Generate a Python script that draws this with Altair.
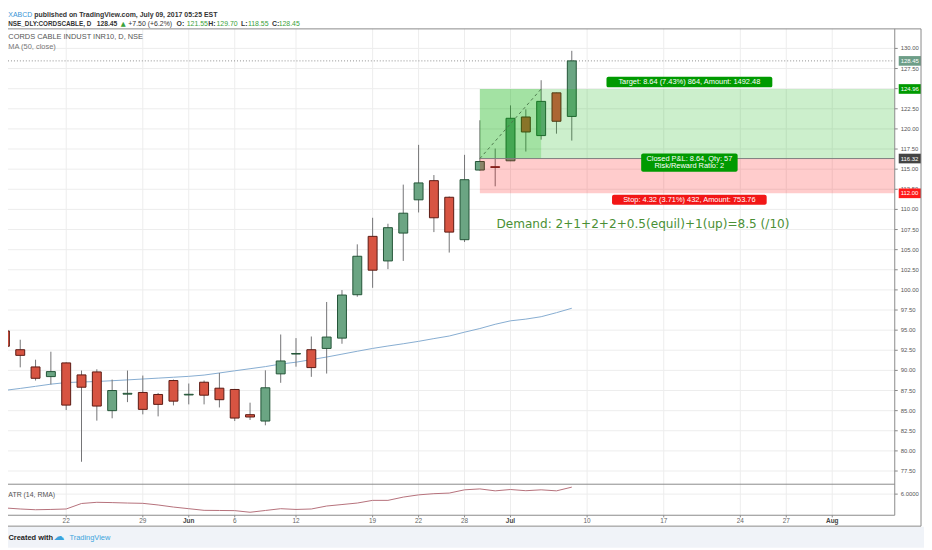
import altair as alt
import pandas as pd

# ---------------- data ----------------
days = ["May 16", "May 17", "May 18", "May 19", "May 22", "May 23", "May 24", "May 25", "May 26",
        "May 29", "May 30", "May 31", "Jun 1", "Jun 2", "Jun 5", "Jun 6", "Jun 7", "Jun 8", "Jun 9",
        "Jun 12", "Jun 13", "Jun 14", "Jun 15", "Jun 16", "Jun 19", "Jun 20", "Jun 21", "Jun 22",
        "Jun 23", "Jun 27", "Jun 28", "Jun 29", "Jun 30", "Jul 3", "Jul 4", "Jul 5", "Jul 6", "Jul 7"]
opens = [94.9, 92.57, 90.43, 89.23, 90.93, 89.44, 89.81, 85.0, 87.05,
         87.26, 87.01, 88.74, 86.95, 88.53, 87.79, 87.63, 84.5, 83.71, 89.57,
         92.03, 92.57, 92.73, 94.01, 99.4, 106.65, 103.6, 107.06, 111.19,
         113.57, 111.51, 106.24, 114.89, 115.3, 116.04, 121.48, 119.17, 124.48, 121.55]
highs = [95.4, 93.81, 91.33, 92.32, 91.0, 89.98, 90.14, 88.86, 89.98,
         89.36, 87.2, 88.86, 88.37, 88.74, 89.69, 87.7, 85.99, 90.01, 94.46,
         94.01, 94.21, 98.5, 99.98, 105.66, 108.96, 108.22, 113.08, 118.02,
         114.27, 111.6, 116.78, 121.07, 117.56, 122.92, 122.43, 126.05, 124.5, 129.70]
lows = [92.7, 90.38, 88.74, 88.25, 85.07, 78.65, 83.76, 84.05, 86.06,
        84.54, 84.29, 85.65, 85.78, 85.78, 85.40, 83.71, 83.84, 83.18, 88.46,
        90.46, 89.2, 89.61, 93.31, 99.15, 100.26, 102.58, 103.6, 109.62,
        107.18, 104.64, 105.95, 114.8, 112.87, 116.0, 117.19, 118.67, 119.41, 118.55]
closes = [93.0, 91.87, 89.02, 89.85, 85.69, 87.91, 85.57, 87.5, 87.15,
          85.16, 85.78, 86.18, 87.03, 86.92, 86.36, 84.08, 84.21, 87.84, 91.17,
          92.1, 90.35, 94.14, 99.36, 104.18, 102.45, 107.73, 109.53, 113.29,
          108.96, 107.18, 113.69, 115.95, 115.22, 121.32, 119.62, 123.42, 120.95, 128.45]
ma50 = [87.52, 87.76, 88.02, 88.29, 88.49, 88.56, 88.62, 88.72, 88.82,
        88.93, 89.04, 89.15, 89.26, 89.42, 89.68, 89.95, 90.21, 90.47, 90.79,
        91.02, 91.34, 91.66, 92.02, 92.38, 92.73, 93.03, 93.31, 93.61,
        93.95, 94.27, 94.75, 95.20, 95.73, 96.16, 96.37, 96.67, 97.17, 97.72]
atr14 = [5.07, 5.0, 4.95, 4.97, 5.0, 5.37, 5.45, 5.43, 5.40,
         5.38, 5.27, 5.13, 5.02, 4.91, 4.9, 4.89, 4.78, 4.9, 5.02,
         4.97, 5.0, 5.2, 5.3, 5.4, 5.58, 5.58, 5.8, 5.95,
         6.03, 6.07, 6.29, 6.35, 6.22, 6.31, 6.23, 6.29, 6.22, 6.47]

tick_idx = [4, 9, 12, 15, 19, 24, 27, 30, 33, 38, 43, 48, 51, 54]
tick_lbl = ["22", "29", "Jun", "6", "12", "19", "22", "28", "Jul", "10", "17", "24", "27", "Aug"]
tick_month = [False, False, True, False, False, False, False, False, True, False, False, False, False, True]
price_ticks = [77.5, 80.0, 82.5, 85.0, 87.5, 90.0, 92.5, 95.0, 97.5, 100.0, 102.5, 105.0,
               107.5, 110.0, 112.5, 115.0, 117.5, 120.0, 122.5, 125.0, 127.5, 130.0]
atr_ticks = [6.0]

entry_price = 116.32
target_price = 124.96
stop_price = 112.00
entry_idx = 31
hit_idx = 35

tag_prices = [128.45, 124.96, 116.32, 112.00]
tag_texts = ["128.45", "124.96", "116.32", "112.00"]
tag_colors = ["#6e9e88", "#009a00", "#444444", "#ff1a1a"]

df = pd.DataFrame({"i": list(range(len(days))), "day": days, "open": opens, "high": highs,
                   "low": lows, "close": closes, "ma": ma50, "atr": atr14})
df["dir"] = ["up" if c >= o else "down" for o, c in zip(opens, closes)]

# ---------------- scales ----------------
FONT = "Liberation Sans"
X_SCALE = alt.Scale(domain=[0.2019, 59.988], padding=0, nice=False, zero=False)
P_SCALE = alt.Scale(domain=[75.862, 132.426], range=[478, 18.7], nice=False, zero=False)
A_SCALE = alt.Scale(domain=[4.58, 6.667], range=[509.3, 478], nice=False, zero=False)
AX = 894.5   # price-axis line (view px)
LBLX = 900.5  # price-axis labels (view px)


def X(field):
    return alt.X(field, type="quantitative", scale=X_SCALE, axis=None)


def PY(field):
    return alt.Y(field, type="quantitative", scale=P_SCALE, axis=None)


def AY(field):
    return alt.Y(field, type="quantitative", scale=A_SCALE, axis=None)


pt = pd.DataFrame({"p": price_ticks, "s": ["%.2f" % v for v in price_ticks]})
xt = pd.DataFrame({"t": tick_idx, "s": tick_lbl, "m": tick_month})
xt_day = xt[~xt["m"]]
xt_mon = xt[xt["m"]]

# ---------------- price panel ----------------
grid_h = alt.Chart(pt).mark_rule(color="#ededed").encode(
    y=PY("p"), x=alt.value(0), x2=alt.value(AX))
grid_v = alt.Chart(xt).mark_rule(color="#ededed").encode(
    x=X("t"), y=alt.value(18.7), y2=alt.value(509.3))
p_ticks = alt.Chart(pt).mark_rule(color="#888888").encode(
    y=PY("p"), x=alt.value(AX), x2=alt.value(AX + 3))
p_labels = alt.Chart(pt).mark_text(align="left", baseline="middle", fontSize=6,
                                   color="#555555", font=FONT).encode(
    y=PY("p"), x=alt.value(LBLX), text="s")
x_ticks = alt.Chart(xt).mark_rule(color="#888888").encode(
    x=X("t"), y=alt.value(509.3), y2=alt.value(511.5))
x_labels_day = alt.Chart(xt_day).mark_text(baseline="middle", fontSize=6.5, font=FONT,
                                           color="#666666").encode(
    x=X("t"), y=alt.value(515.6), text="s")
x_labels_mon = alt.Chart(xt_mon).mark_text(baseline="middle", fontSize=6.5, font=FONT,
                                           color="#444444", fontWeight="bold").encode(
    x=X("t"), y=alt.value(515.6), text="s")

last_line = alt.Chart(pd.DataFrame({"p": [closes[-1]]})).mark_rule(
    color="#8f8f8f", strokeDash=[1, 2]).encode(y=PY("p"), x=alt.value(0), x2=alt.value(AX))
ma_line = alt.Chart(df).mark_line(color="#86acd0", strokeWidth=1).encode(x=X("i"), y=PY("ma"))
wicks = alt.Chart(df).mark_rule(color="#737375", strokeWidth=1).encode(
    x=X("i"), y=PY("low"), y2="high")
bodies = alt.Chart(df).mark_bar(size=9, strokeWidth=1).encode(
    x=X("i"), y=PY("open"), y2="close",
    fill=alt.Fill("dir:N", scale=alt.Scale(domain=["up", "down"], range=["#6ba583", "#d75442"]), legend=None),
    stroke=alt.Stroke("dir:N", scale=alt.Scale(domain=["up", "down"], range=["#225437", "#5b1a13"]), legend=None))

zdf = pd.DataFrame({"x": [entry_idx], "x2": [hit_idx], "t": [target_price], "e": [entry_price], "s": [stop_price]})
zone_g = alt.Chart(zdf).mark_rect(fill="#00b000", fillOpacity=0.2).encode(
    x=X("x"), x2=alt.value(AX), y=PY("t"), y2="e")
zone_g2 = alt.Chart(zdf).mark_rect(fill="#00b000", fillOpacity=0.2).encode(
    x=X("x"), x2="x2", y=PY("t"), y2="e")
zone_r = alt.Chart(zdf).mark_rect(fill="#ff0000", fillOpacity=0.2).encode(
    x=X("x"), x2=alt.value(AX), y=PY("e"), y2="s")
entry_rule = alt.Chart(zdf).mark_rule(color="#808080").encode(
    x=X("x"), x2=alt.value(AX), y=PY("e"))
path = alt.Chart(pd.DataFrame({"x": [entry_idx, hit_idx], "p": [entry_price, target_price]})).mark_line(
    color="#4d7a4d", strokeDash=[3, 3], strokeWidth=1).encode(x=X("x"), y=PY("p"))

tdf = pd.DataFrame({"p": tag_prices, "lbl": tag_texts, "c": tag_colors})
tdf["hi"] = tdf["p"] + 0.6
tdf["lo"] = tdf["p"] - 0.6
tags = alt.Chart(tdf).mark_rect().encode(
    y=PY("hi"), y2="lo", x=alt.value(898.5), x2=alt.value(921),
    fill=alt.Fill("c:N", scale=None, legend=None))
tag_txt = alt.Chart(tdf).mark_text(align="left", baseline="middle", fontSize=6, color="white", font=FONT).encode(
    y=PY("p"), x=alt.value(LBLX), text="lbl")

price_sub = alt.layer(grid_h, grid_v, p_ticks, p_labels, x_ticks, x_labels_day, x_labels_mon,
                      last_line, ma_line, wicks, bodies, zone_g, zone_g2, zone_r, entry_rule,
                      path, tags, tag_txt)

# ---------------- ATR panel ----------------
at = pd.DataFrame({"v": atr_ticks, "s": ["%.4f" % v for v in atr_ticks]})
atr_grid = alt.Chart(at).mark_rule(color="#ededed").encode(
    y=AY("v"), x=alt.value(0), x2=alt.value(AX))
atr_tick = alt.Chart(at).mark_rule(color="#888888").encode(
    y=AY("v"), x=alt.value(AX), x2=alt.value(AX + 3))
atr_lbl = alt.Chart(at).mark_text(
    align="left", baseline="middle", fontSize=6, color="#555555", font=FONT).encode(
    y=AY("v"), x=alt.value(LBLX), text="s")
atr_line = alt.Chart(df).mark_line(color="#b5707a", strokeWidth=1).encode(x=X("i"), y=AY("atr"))
atr_sub = alt.layer(atr_grid, atr_tick, atr_lbl, atr_line)

# ---------------- decorations (view pixels) ----------------
one = pd.DataFrame({"k": [0]})


def txt(s, x, y, size=7, color="#333333", weight="normal", align="left", font=FONT):
    return alt.Chart(one).mark_text(text=s, fontSize=size, color=color, fontWeight=weight,
                                    align=align, baseline="middle", font=font).encode(
        x=alt.value(x), y=alt.value(y))


def box(x, x2, y, y2, fill, r=0):
    return alt.Chart(one).mark_rect(fill=fill, cornerRadius=r).encode(
        x=alt.value(x), x2=alt.value(x2), y=alt.value(y), y2=alt.value(y2))


def line(x, x2, y, y2, color="#8a8a8a"):
    return alt.Chart(one).mark_rule(color=color, strokeWidth=1).encode(
        x=alt.value(x), x2=alt.value(x2), y=alt.value(y), y2=alt.value(y2))


GREEN = "#3aa23a"
deco = [
    box(0, 924, 521, 542, "#f0f3f8"),
    line(0, 921, 18.7, 18.7),
    line(921, 921, 18.7, 520.3),
    line(AX, AX, 18.7, 509.3),
    line(0, AX, 478, 478),
    line(0, AX, 509.3, 509.3),
    line(0, 921, 520.3, 520.3),
    # header
    txt("XABCD", 0.3, 4.5, 7, "#3a95d6"),
    txt("published on TradingView.com, July 09, 2017 05:25 EST", 26.5, 4.5, 7, "#333333", "bold"),
    txt("NSE_DLY:CORDSCABLE, D", 0.3, 13.5, 6.4, "#333333", "bold"),
    txt("128.45", 89.5, 13.5, 6.8, "#333333", "bold"),
    txt("\u25B2", 113.7, 13.5, 6.5, GREEN, "normal", "left", "DejaVu Sans"),
    txt("+7.50 (+6.2%)", 121.3, 13.5, 7, "#333333"),
    txt("O:", 170, 13.5, 7, "#333333", "bold"),
    txt("121.55", 180.3, 13.5, 7, GREEN),
    txt("H:", 202, 13.5, 7, "#333333", "bold"),
    txt("129.70", 210.3, 13.5, 7, GREEN),
    txt("L:", 235, 13.5, 7, "#333333", "bold"),
    txt("118.55", 242, 13.5, 7, GREEN),
    txt("C:", 266.3, 13.5, 7, "#333333", "bold"),
    txt("128.45", 273, 13.5, 7, GREEN),
    # in-chart legends
    txt("CORDS CABLE INDUST INR10, D, NSE", 0.3, 27, 7.5, "#555555"),
    txt("MA (50, close)", 0.3, 36.7, 7.5, "#777777"),
    txt("ATR (14, RMA)", 0.3, 488.7, 7, "#555555"),
    # position tool labels
    box(603.7, 771, 67, 77.7, "#009a00", 2),
    txt("Target: 8.64 (7.43%) 864, Amount: 1492.48", 687.3, 72.5, 7.5, "white", "normal", "center"),
    box(638.7, 736, 144.3, 162.7, "#009a00", 2),
    txt("Closed P&L: 8.64, Qty: 57", 687.3, 149.7, 7.5, "white", "normal", "center"),
    txt("Risk/Reward Ratio: 2", 687.3, 156.9, 7.5, "white", "normal", "center"),
    box(609.3, 765.3, 186, 196, "#f21616", 2),
    txt("Stop: 4.32 (3.71%) 432, Amount: 753.76", 687.3, 191, 7.5, "white", "normal", "center"),
    txt("Demand: 2+1+2+2+0.5(equil)+1(up)=8.5 (/10)", 492.7, 216, 12.2, "#4a8f35", "normal", "left", "DejaVu Sans"),
    # footer
    txt("Created with", 0.5, 532, 7.5, "#222222", "bold"),
    txt("\u2601", 46, 531.5, 11, "#3ba3dc", "normal", "left", "DejaVu Sans"),
    txt("TradingView", 62, 532, 7.5, "#3ba3dc"),
]

chart = alt.layer(price_sub, atr_sub, *deco).resolve_scale(y="independent").properties(
    width=924, height=542, autosize=alt.AutoSizeParams(type="none"), padding=0,
    background="white").configure_view(stroke=None)

chart.save("out.html", embed_options={"renderer": "svg", "actions": False})
